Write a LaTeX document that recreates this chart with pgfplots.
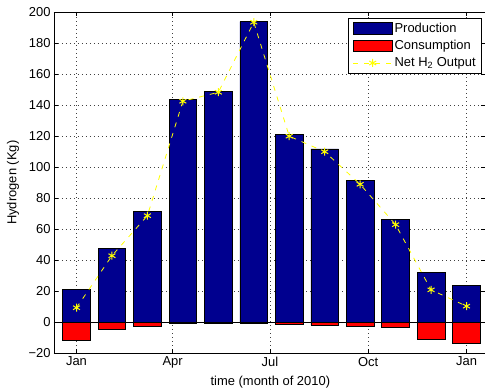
\documentclass[border=0pt]{standalone}
\usepackage{fontspec}
\setmainfont{Liberation Sans}
\usepackage{pgfplots}
\pgfplotsset{compat=1.18}
\definecolor{barnavy}{RGB}{0,0,143}
\definecolor{myyellow}{RGB}{255,255,0}
\pgfplotsset{
  barleg/.style={legend image code/.code={\draw[##1] (0bp,-5.8bp) rectangle (39bp,5.8bp);}},
  lineleg/.style={legend image code/.code={\draw[mark repeat=2,mark phase=2,##1] plot coordinates {(0bp,0bp) (19.5bp,0bp) (39bp,0bp)};}},
}
\begin{document}
\begin{tikzpicture}
\begin{axis}[
  scale only axis,
  width=431bp, height=341.5bp,
  xmin=-21.06, xmax=382.3,
  ymin=-20, ymax=200,
  xtick={0,90,181,273,365},
  xticklabels={Jan,Apr,Jul,Oct,Jan},
  ytick={-20,0,...,200},
  yticklabels={−20,0,20,40,60,80,100,120,140,160,180,200},
  tick align=inside,
  major tick length=4bp,
  tick style={black, line width=0.5bp},
  grid=major,
  major grid style={black!75, line width=0.5bp, dash pattern=on 0.8bp off 3.2bp},
  axis line style={black, line width=0.8bp},
  font=\fontsize{13}{15.6}\selectfont,
  ticklabel style={font=\fontsize{13}{15.6}\selectfont},
  xlabel={time (month of 2010)},
  ylabel={Hydrogen (Kg)},
  xlabel style={at={(axis description cs:0.502,-0.0826)}, anchor=center},
  ylabel style={at={(axis description cs:-0.0951,0.5)}, anchor=center},
  legend style={at={(rel axis cs:1,1)}, anchor=north east, xshift=-3bp, yshift=-5.7bp,
    draw=black, line width=0.6bp, font=\fontsize{13}{15.6}\selectfont,
    inner xsep=4bp, inner ysep=3bp, row sep=2.5bp, cells={anchor=west}},
  legend cell align=left,
]
\addplot[ybar, bar shift=0pt, bar width=25.9, fill=barnavy, draw=black, line width=0.6bp, barleg]
  coordinates {(0,21.5) (33.18,47.6) (66.36,71.5) (99.55,143.5) (132.73,149) (165.91,193.8)
   (199.09,121) (232.27,111.8) (265.45,91.4) (298.64,66.3) (331.82,32) (365,23.8)};
\addlegendentry{Production}
\addplot[ybar, bar shift=0pt, bar width=25.9, fill=red, draw=black, line width=0.6bp, barleg]
  coordinates {(0,-11.6) (33.18,-4.3) (66.36,-2.6) (99.55,-0.8) (132.73,-0.6) (165.91,-0.3)
   (199.09,-1.0) (232.27,-1.7) (265.45,-2.3) (298.64,-3.0) (331.82,-10.7) (365,-13.5)};
\addlegendentry{Consumption}
\addplot[myyellow, line width=0.8bp, dash pattern=on 5bp off 6bp, mark=asterisk,
  mark size=4bp, mark options={solid, line width=1bp, myyellow}, lineleg]
  coordinates {(0,9.5) (33.18,43) (66.36,68.8) (99.55,142.5) (132.73,148.3) (165.91,193.4)
   (199.09,120) (232.27,110) (265.45,89) (298.64,63) (331.82,21) (365,10.5)};
\addlegendentry{Net H\textsubscript{2} Output}
\addplot[black, line width=0.6bp, forget plot] coordinates {(-21.06,0) (382.3,0)};
\coordinate (sw) at (rel axis cs:0,0);
\coordinate (se) at (rel axis cs:1,0);
\coordinate (ne) at (rel axis cs:1,1);
\end{axis}
\draw[line width=1.6bp] (sw) -- (se);
\pgfresetboundingbox
\path[use as bounding box] ([xshift=-54bp,yshift=-37.5bp]sw) rectangle ([yshift=12bp]ne);
\end{tikzpicture}
\end{document}
